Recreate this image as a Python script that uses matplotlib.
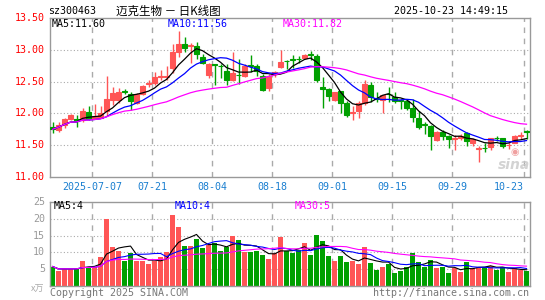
import numpy as np
import pandas as pd
import matplotlib
matplotlib.use('Agg')
import matplotlib.pyplot as plt

# daily K line, sz300463 (80 trading days up to 2025-10-23)
opens = [11.79, 11.74, 11.81, 11.91, 11.91, 11.90, 12.02, 11.92, 11.92, 12.03,
         12.21, 12.21, 12.36, 12.30, 12.17, 12.31, 12.47, 12.48, 12.58, 12.58,
         12.71, 12.97, 13.09, 13.06, 13.06, 12.89, 12.60, 12.77, 12.75, 12.67,
         12.52, 12.61, 12.59, 12.76, 12.75, 12.59, 12.40, 12.64, 12.73, 12.83,
         12.85, 12.86, 12.87, 12.93, 12.91, 12.41, 12.39, 12.21, 12.35, 12.17,
         12.01, 12.04, 12.16, 12.44, 12.24, 12.21, 12.31, 12.26, 12.21, 12.20,
         12.08, 11.92, 11.83, 11.80, 11.58, 11.71, 11.64, 11.60, 11.61, 11.69,
         11.54, 11.44, 11.46, 11.47, 11.62, 11.61, 11.50, 11.54, 11.65, 11.72]
highs = [11.86, 11.87, 11.92, 11.99, 11.97, 12.09, 12.12, 12.14, 12.12, 12.59,
         12.42, 12.40, 12.38, 12.34, 12.32, 12.44, 12.52, 12.65, 12.68, 12.75,
         13.09, 13.29, 13.20, 13.11, 13.12, 12.93, 12.80, 12.78, 12.78, 12.78,
         12.96, 12.85, 12.78, 12.92, 12.78, 12.62, 12.62, 12.67, 12.99, 12.84,
         12.92, 12.91, 12.93, 12.98, 12.93, 12.57, 12.40, 12.34, 12.36, 12.20,
         12.12, 12.19, 12.52, 12.49, 12.34, 12.29, 12.42, 12.34, 12.22, 12.22,
         12.22, 12.03, 11.87, 11.82, 11.72, 11.74, 11.66, 11.66, 11.68, 11.70,
         11.61, 11.48, 11.53, 11.62, 11.65, 11.62, 11.56, 11.66, 11.71, 11.74]
lows = [11.69, 11.71, 11.77, 11.90, 11.79, 11.87, 11.89, 11.91, 11.92, 11.96,
        12.13, 12.16, 12.31, 12.05, 12.15, 12.29, 12.42, 12.44, 12.52, 12.53,
        12.63, 12.89, 12.97, 12.80, 12.85, 12.78, 12.56, 12.45, 12.56, 12.45,
        12.51, 12.46, 12.58, 12.65, 12.59, 12.35, 12.35, 12.58, 12.71, 12.70,
        12.72, 12.80, 12.86, 12.84, 12.49, 12.09, 12.20, 12.20, 12.00, 11.95,
        11.89, 11.92, 12.13, 12.18, 12.18, 12.00, 12.18, 12.17, 12.07, 12.05,
        11.87, 11.75, 11.68, 11.42, 11.57, 11.58, 11.45, 11.43, 11.58, 11.49,
        11.49, 11.23, 11.39, 11.43, 11.56, 11.45, 11.44, 11.53, 11.59, 11.59]
closes = [11.75, 11.82, 11.91, 11.97, 11.88, 12.03, 11.91, 11.96, 12.01, 12.23,
          12.32, 12.34, 12.34, 12.19, 12.31, 12.43, 12.48, 12.58, 12.59, 12.59,
          12.96, 13.09, 13.03, 13.07, 12.94, 12.80, 12.78, 12.76, 12.74, 12.52,
          12.63, 12.60, 12.75, 12.75, 12.67, 12.37, 12.59, 12.65, 12.81, 12.82,
          12.84, 12.85, 12.92, 12.92, 12.52, 12.39, 12.27, 12.33, 12.17, 11.97,
          12.02, 12.17, 12.47, 12.26, 12.23, 12.29, 12.30, 12.20, 12.20, 12.08,
          11.94, 11.78, 11.82, 11.64, 11.71, 11.65, 11.59, 11.61, 11.65, 11.56,
          11.59, 11.45, 11.45, 11.61, 11.61, 11.49, 11.51, 11.65, 11.66, 11.71]
volumes = [5.8, 4.4, 5.1, 5.1, 5.1, 7.4, 5.8, 5.8, 8.5, 20.0,
           11.7, 10.5, 7.5, 9.7, 7.5, 7.5, 6.4, 7.4, 8.7, 10.2,
           21.1, 17.5, 12.0, 12.0, 14.1, 11.2, 12.2, 12.9, 10.5, 11.5,
           14.9, 13.7, 10.2, 10.2, 10.5, 9.3, 8.0, 9.8, 14.6, 10.5,
           9.7, 10.7, 12.9, 9.3, 15.1, 13.4, 9.0, 7.4, 9.0, 7.1,
           7.5, 6.4, 11.7, 6.8, 4.9, 5.8, 6.4, 3.8, 4.4, 5.8,
           9.7, 7.1, 5.8, 7.7, 5.3, 5.6, 3.8, 5.4, 4.1, 7.1,
           5.3, 5.8, 5.8, 6.1, 4.9, 5.6, 4.1, 5.3, 4.8, 4.4]

tick_idx = [7, 17, 27, 37, 47, 57, 67, 79]
tick_labels = ['2025-07-07', '07-21', '08-04', '08-18', '09-01', '09-15', '09-29', '10-23']
price_ticks = [11.0, 11.5, 12.0, 12.5, 13.0, 13.5]
vol_ticks = [5, 10, 15, 20, 25]

RED = '#ff5555'
GREEN = '#00a000'
GRID = '#aaaaaa'
MONO = 'DejaVu Sans Mono'
CJK = ['Noto Sans CJK SC', 'DejaVu Sans']

df = pd.DataFrame({'o': opens, 'h': highs, 'l': lows, 'c': closes, 'v': volumes})
x = np.arange(len(df))
up = df['c'] >= df['o']
cols = np.where(up, RED, GREEN)

W, H = 545, 300
fig = plt.figure(figsize=(W / 100, H / 100), dpi=100)


def px(x0, y0):
    return x0 / W, 1 - y0 / H


ax = fig.add_axes([50 / W, 1 - 177 / H, 480 / W, 159 / H])
axv = fig.add_axes([50 / W, 1 - 286 / H, 480 / W, 84 / H])

for a in (ax, axv):
    a.set_xlim(-0.42, 79.58)
    for s in a.spines.values():
        s.set_color('#999999')
        s.set_linewidth(1)
    a.set_xticks([])
    a.set_yticks([])
    for t in tick_idx:
        a.axvline(t - 0.42, color=GRID, lw=1, ls=(0, (4, 4)), zorder=0)

ax.set_ylim(11.0, 13.5)
for p in price_ticks[1:-1]:
    ax.axhline(p, color=GRID, lw=0.8, ls=(0, (1, 2)), zorder=0)
axv.set_ylim(0, 25)
for v in vol_ticks[:-1]:
    axv.axhline(v, color=GRID, lw=0.8, ls=(0, (1, 2)), zorder=0)

# candles
ax.vlines(x, df['l'], df['h'], colors=cols, lw=1, zorder=2)
ax.bar(x, (df['c'] - df['o']).abs(), bottom=df[['o', 'c']].min(axis=1), width=0.72,
       color=cols, edgecolor=cols, linewidth=0.8, zorder=3)

# moving averages
for n, col in [(5, 'black'), (10, '#0000ff'), (30, '#ff00ff')]:
    ax.plot(x, df['c'].rolling(n, min_periods=1).mean(), color=col, lw=0.9, zorder=4)
    axv.plot(x, df['v'].rolling(n, min_periods=1).mean(), color=col, lw=0.8, zorder=4)

axv.bar(x, df['v'], width=0.85, color=cols, zorder=2)

# axis labels
for p in price_ticks:
    y = 177 - (p - 11.0) * 159 / 2.5
    fig.text(*px(45, y), f'{p:.2f}', color='red', fontsize=7.2, family=MONO,
             ha='right', va='center')
for v in vol_ticks:
    y = 286 - v * 84 / 25
    fig.text(*px(45, y), str(v), color='#999999', fontsize=7.2, family=MONO,
             ha='right', va='center')
fig.text(*px(44, 289), 'x万', color='#aaaaaa', fontsize=6.5, family=CJK,
         ha='right', va='center')

for t, lab in zip(tick_idx, tick_labels):
    xp = 52.5 + 6 * t - 2.5
    ha = 'right' if t == tick_idx[-1] else 'center'
    fig.text(*px(xp, 187), lab, color='#1a7fd0', fontsize=7.2, family=MONO,
             ha=ha, va='center')

# header
fig.text(*px(48, 11), 'sz300463', fontsize=7.2, family=MONO, va='center')
fig.text(*px(116, 11), '迈克生物 － 日K线图', fontsize=8.3, family=CJK, va='center')
fig.text(*px(508, 11), '2025-10-23 14:49:15', fontsize=7.2, family=MONO,
         ha='right', va='center')

fig.text(*px(52, 24), 'MA5:11.60', fontsize=7.2, family=MONO, color='black', va='center')
fig.text(*px(168, 24), 'MA10:11.56', fontsize=7.2, family=MONO, color='#0000ff', va='center')
fig.text(*px(283, 24), 'MA30:11.82', fontsize=7.2, family=MONO, color='#ff00ff', va='center')

fig.text(*px(54, 206), 'MA5:4', fontsize=7.2, family=MONO, color='black', va='center')
fig.text(*px(175, 206), 'MA10:4', fontsize=7.2, family=MONO, color='#0000ff', va='center')
fig.text(*px(295, 206), 'MA30:5', fontsize=7.2, family=MONO, color='#ff00ff', va='center')

fig.text(*px(50, 293), 'Copyright 2025 SINA.COM', fontsize=7.2, family=MONO,
         color='#777777', va='center')
fig.text(*px(529, 293), 'http://finance.sina.com.cn', fontsize=7.2, family=MONO,
         color='#777777', ha='right', va='center')

# sina watermark
fig.text(*px(514, 165), 'sina', fontsize=10, style='italic', weight='bold',
         color='#c8c8c8', ha='center', va='center', alpha=0.8)
fig.text(*px(515, 152), '◉', fontsize=7, color='#f0a0a0', ha='center', va='center')

fig.savefig('out.png', dpi=100)
